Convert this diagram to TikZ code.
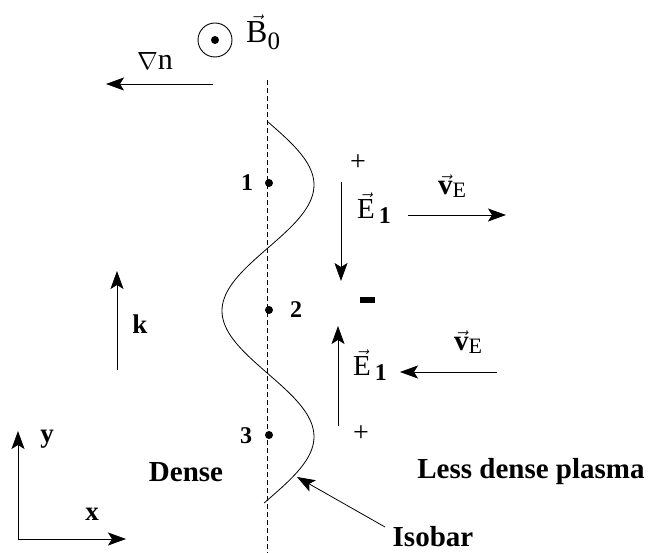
\documentclass[tikz,border=0pt]{standalone}
\usepackage{fontspec}
\setmainfont{Liberation Serif}
\usetikzlibrary{arrows.meta}
\tikzset{
  arr/.style={-{Stealth[length=18pt,width=13pt,inset=4pt]}, line width=0.8pt},
  lbl/.style={inner sep=0pt, font=\fontsize{29}{32}\selectfont},
  blbl/.style={inner sep=0pt, font=\fontsize{27}{30}\selectfont\bfseries},
  num/.style={inner sep=0pt, font=\fontsize{24}{26}\selectfont\bfseries},
  dot/.style={circle, fill=black, inner sep=0pt, minimum size=8pt},
  region/.style={inner sep=0pt, font=\fontsize{29}{32}\selectfont\bfseries},
}
\newcommand{\vecE}{$\vec{\mbox{E}}$\raisebox{-5pt}{\fontsize{24}{26}\selectfont\bfseries\,1}}
\newcommand{\vecV}{$\vec{\mbox{\bfseries v}}$\raisebox{-3pt}{\fontsize{22}{24}\selectfont E}}
\begin{document}
\begin{tikzpicture}[x=1pt,y=-1pt]
\useasboundingbox (0,0) rectangle (648,553);
% dashed centre line
\coordinate (dtop) at (267,80);
\coordinate (dbot) at (267,553);
\draw[dashed, dash pattern=on 5pt off 3pt, line width=0.7pt] (dtop) -- (dbot);
% isobar
\draw[line width=0.8pt] plot[domain=122:503, samples=120, smooth] ({268+46*sin(1.43*(\x-122))}, \x);
% B0
\node[circle, draw, line width=0.9pt, minimum size=34pt, inner sep=0pt] (circ) at (215,40) {};
\node[dot, minimum size=8pt] (cdot) at (215,40) {};
\node[lbl, font=\fontsize{32}{34}\selectfont, anchor=west] (B) at (246,32) {$\vec{\mbox{B}}$\raisebox{-7pt}{\fontsize{25}{26}\selectfont 0}};
% grad n
\node[lbl, font=\fontsize{30}{32}\selectfont] (gn) at (155,61) {$\nabla$n};
\coordinate (gs) at (213,84);
\coordinate (ge) at (106,84);
\draw[arr] (gs) -- (ge);
% points
\node[dot] (p1) at (269,183) {};
\node[dot] (p2) at (269,310) {};
\node[dot] (p3) at (269,435) {};
\node[num] (n1) at (247,183) {1};
\node[num] (n2) at (296,310) {2};
\node[num] (n3) at (246,436) {3};
% charges
\node[lbl, font=\fontsize{28}{30}\selectfont] (plus1) at (358,163) {+};
\node[lbl, font=\fontsize{28}{30}\selectfont] (plus2) at (361,434) {+};
\node[fill=black, minimum width=15pt, minimum height=6pt, inner sep=0pt] (minus) at (367,300) {};
% E1 down
\coordinate (e1s) at (341,182);
\coordinate (e1e) at (341,281);
\draw[arr] (e1s) -- (e1e);
\node[lbl] (E1a) at (374,208) {\vecE};
% vE right
\coordinate (v1s) at (408,215);
\coordinate (v1e) at (506,215);
\draw[arr] (v1s) -- (v1e);
\node[lbl] (vE1) at (452,186) {\vecV};
% E1 up
\coordinate (e2s) at (338,426);
\coordinate (e2e) at (338,326);
\draw[arr] (e2s) -- (e2e);
\node[lbl] (E1b) at (370,365) {\vecE};
% vE left
\coordinate (v2s) at (497,372);
\coordinate (v2e) at (400,372);
\draw[arr] (v2s) -- (v2e);
\node[lbl] (vE2) at (468,342) {\vecV};
% k
\coordinate (ks) at (117,370);
\coordinate (ke) at (117,271);
\draw[arr] (ks) -- (ke);
\node[blbl] (k) at (140,324) {k};
% axes
\coordinate (o) at (18,539);
\coordinate (ye) at (18,431);
\coordinate (xe) at (126,539);
\draw[arr] (o) -- (ye);
\draw[arr] (o) -- (xe);
\node[blbl] (ylab) at (47,439) {y};
\node[blbl] (xlab) at (92,514) {x};
% region labels
\node[region] (dense) at (186,472) {Dense};
\node[region] (less) at (531,472) {Less dense plasma};
\node[region] (iso) at (433,537) {Isobar};
\coordinate (is) at (385,527);
\coordinate (ie) at (297,477);
\draw[arr] (is) -- (ie);
\end{tikzpicture}
\end{document}
